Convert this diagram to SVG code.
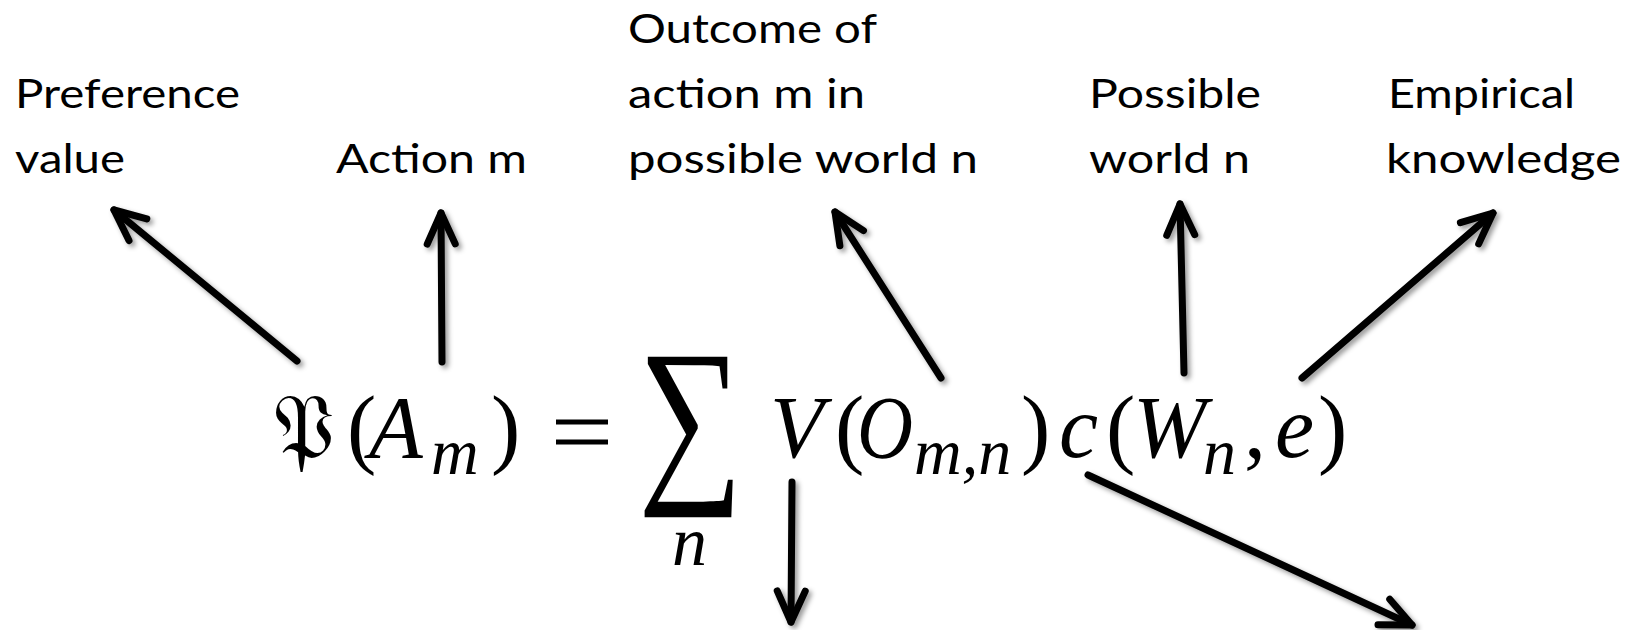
<svg xmlns="http://www.w3.org/2000/svg" width="1625" height="630" viewBox="0 0 1625 630">
  <defs>
    <style>
      .lbl { font-family: "Lato", "Open Sans", "Liberation Sans", sans-serif; font-size: 40px; fill: #000; }
      .math { font-family: "Liberation Serif", "DejaVu Serif", serif; fill: #000; }
      .it { font-style: italic; }
      .conn { stroke: #000; stroke-width: 7; stroke-linecap: round; fill: none; }
    </style>
    <marker id="arrow" markerUnits="userSpaceOnUse" viewBox="-45 -25 55 50" markerWidth="55" markerHeight="50" refX="0" refY="0" orient="auto" overflow="visible">
      <path d="M-31,-14 L0,0 L-31,14" fill="none" stroke="#000" stroke-width="7" stroke-linecap="round" stroke-linejoin="round"/>
    </marker>
    <filter id="shadow" x="-20%" y="-20%" width="140%" height="140%">
      <feDropShadow dx="3" dy="3" stdDeviation="2.5" flood-color="#000" flood-opacity="0.4"/>
    </filter>
  </defs>
  <rect width="1625" height="630" fill="#fff"/>

  <g id="label-preference">
    <text class="lbl" x="15" y="108" textLength="225" lengthAdjust="spacingAndGlyphs">Preference</text>
    <text class="lbl" x="15" y="173" textLength="110" lengthAdjust="spacingAndGlyphs">value</text>
  </g>
  <g id="label-action">
    <text class="lbl" x="336" y="173" textLength="191" lengthAdjust="spacingAndGlyphs">Action m</text>
  </g>
  <g id="label-outcome">
    <text class="lbl" x="628" y="43" textLength="249" lengthAdjust="spacingAndGlyphs">Outcome of</text>
    <text class="lbl" x="628" y="108" textLength="237" lengthAdjust="spacingAndGlyphs">action m in</text>
    <text class="lbl" x="628" y="173" textLength="350" lengthAdjust="spacingAndGlyphs">possible world n</text>
  </g>
  <g id="label-world">
    <text class="lbl" x="1089" y="108" textLength="172" lengthAdjust="spacingAndGlyphs">Possible</text>
    <text class="lbl" x="1089" y="173" textLength="161" lengthAdjust="spacingAndGlyphs">world n</text>
  </g>
  <g id="label-knowledge">
    <text class="lbl" x="1388" y="108" textLength="187" lengthAdjust="spacingAndGlyphs">Empirical</text>
    <text class="lbl" x="1386" y="173" textLength="235" lengthAdjust="spacingAndGlyphs">knowledge</text>
  </g>

  <g id="formula">
    <text class="math" font-size="92" x="273" y="459" font-family="DejaVu Serif, serif" textLength="62" lengthAdjust="spacingAndGlyphs">𝔓</text>
    <text class="math" font-size="88" x="347" y="457">(</text>
    <text class="math it" font-size="88" x="369" y="457">A</text>
    <text class="math it" font-size="66" x="431" y="474">m</text>
    <text class="math" font-size="88" x="491" y="457">)</text>
    <rect x="556" y="419.5" width="52" height="5"/>
    <rect x="556" y="439.5" width="52" height="5"/>
    <text class="math" font-size="185" x="638" y="478" textLength="105" lengthAdjust="spacingAndGlyphs">∑</text>
    <text class="math it" font-size="70" x="672" y="565">n</text>
    <text class="math it" font-size="88" x="770" y="457">V</text>
    <text class="math" font-size="88" x="835" y="457">(</text>
    <text class="math it" font-size="88" x="857" y="457" textLength="56" lengthAdjust="spacingAndGlyphs">O</text>
    <text class="math it" font-size="66" x="914" y="474">m,n</text>
    <text class="math" font-size="88" x="1021" y="457">)</text>
    <text class="math it" font-size="88" x="1059" y="457">c</text>
    <text class="math" font-size="88" x="1106" y="457">(</text>
    <text class="math it" font-size="88" x="1133" y="457">W</text>
    <text class="math it" font-size="66" x="1203" y="474">n</text>
    <text class="math" font-size="88" x="1244" y="457">,</text>
    <text class="math it" font-size="88" x="1275" y="457">e</text>
    <text class="math" font-size="88" x="1318" y="457">)</text>
  </g>

  <g id="connectors" filter="url(#shadow)">
    <line class="conn" x1="297" y1="361" x2="114" y2="210" marker-end="url(#arrow)"/>
    <line class="conn" x1="442" y1="362" x2="441" y2="213" marker-end="url(#arrow)"/>
    <line class="conn" x1="941" y1="378" x2="835" y2="212" marker-end="url(#arrow)"/>
    <line class="conn" x1="1184" y1="373" x2="1180" y2="204" marker-end="url(#arrow)"/>
    <line class="conn" x1="1302" y1="378" x2="1493" y2="213" marker-end="url(#arrow)"/>
    <line class="conn" x1="792" y1="482" x2="791" y2="622" marker-end="url(#arrow)"/>
    <line class="conn" x1="1088" y1="475" x2="1412" y2="625" marker-end="url(#arrow)"/>
  </g>
</svg>
